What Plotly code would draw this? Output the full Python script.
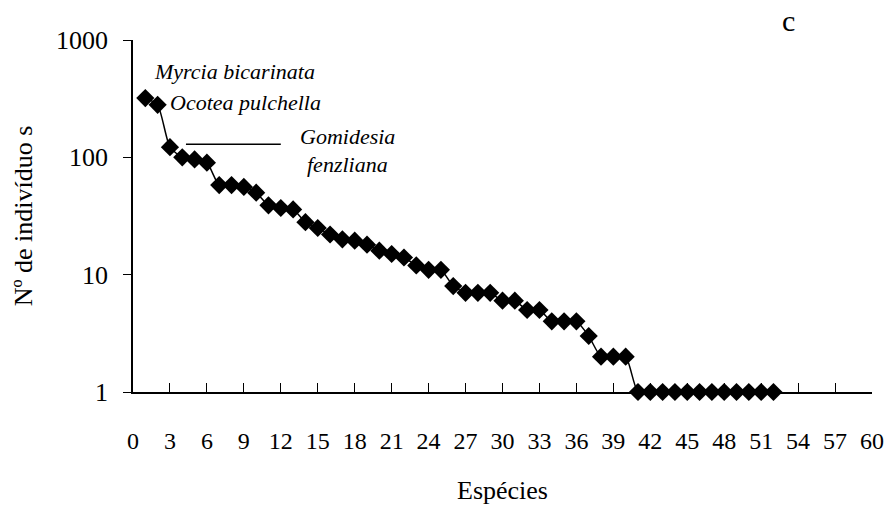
import plotly.graph_objects as go

# species rank and abundance (nº de indivíduos)
especies = list(range(1, 53))
individuos = [
    320, 280, 122, 100, 96, 90, 58, 58, 56, 50,
    39, 37, 36, 28, 25, 22, 20, 19.5, 18, 16,
    15, 14, 12, 11, 11, 8, 7, 7, 7, 6,
    6, 5, 5, 4, 4, 4, 3, 2, 2, 2,
    1, 1, 1, 1, 1, 1, 1, 1, 1, 1,
    1, 1,
]
x_ticks = list(range(0, 61, 3))
y_ticks = [1, 10, 100, 1000]

SERIF = "Liberation Serif, Times New Roman, serif"

fig = go.Figure()
fig.add_trace(
    go.Scatter(
        x=especies,
        y=individuos,
        mode="lines+markers",
        line=dict(color="black", width=1.5, shape="spline", smoothing=0.6),
        marker=dict(symbol="diamond", size=14, color="black"),
        cliponaxis=False,
        showlegend=False,
    )
)

# species labels (x in species units, y in log10 units)
notes = [
    ("Myrcia bicarinata", 8.25, 2.73),
    ("Ocotea pulchella", 9.15, 2.47),
    ("Gomidesia", 17.4, 2.18),
    ("fenzliana", 17.4, 1.94),
]
for txt, nx, ny in notes:
    fig.add_annotation(
        x=nx, y=ny, text=f"<i>{txt}</i>", showarrow=False,
        font=dict(family=SERIF, size=22, color="black"),
    )

fig.add_shape(
    type="line", xref="x", yref="y",
    x0=4.3, x1=12.0, y0=129, y1=129,
    line=dict(color="black", width=1.5),
)

# panel letter
fig.add_annotation(
    xref="paper", yref="paper", x=0.887, y=1.055,
    xanchor="center", yanchor="middle",
    text="c", showarrow=False,
    font=dict(family=SERIF, size=30, color="black"),
)

fig.update_xaxes(
    range=[0, 60],
    tickvals=x_ticks,
    ticks="inside",
    ticklen=9,
    tickcolor="black",
    ticklabelstandoff=26,
    showline=True,
    linecolor="black",
    linewidth=1.5,
    showgrid=False,
    zeroline=False,
    tickfont=dict(family=SERIF, size=24, color="black"),
    title=dict(text="Espécies", font=dict(family=SERIF, size=26, color="black"), standoff=28),
)
fig.update_yaxes(
    type="log",
    range=[0, 3],
    tickvals=y_ticks,
    ticktext=[str(v) for v in y_ticks],
    ticks="outside",
    ticklen=8,
    tickcolor="black",
    ticklabelstandoff=10,
    showline=True,
    linecolor="black",
    linewidth=1.5,
    showgrid=False,
    zeroline=False,
    tickfont=dict(family=SERIF, size=26, color="black"),
    title=dict(text="Nº de indivíduo s", font=dict(family=SERIF, size=26, color="black"), standoff=16),
)

fig.update_layout(
    width=896,
    height=512,
    plot_bgcolor="white",
    paper_bgcolor="white",
    margin=dict(l=133, r=14, t=40, b=114),
)

# drop the default body margin so the figure fills the window exactly
fig.write_html(
    "out.html",
    config={"displayModeBar": False},
    post_script="document.body.style.margin='0';",
)
